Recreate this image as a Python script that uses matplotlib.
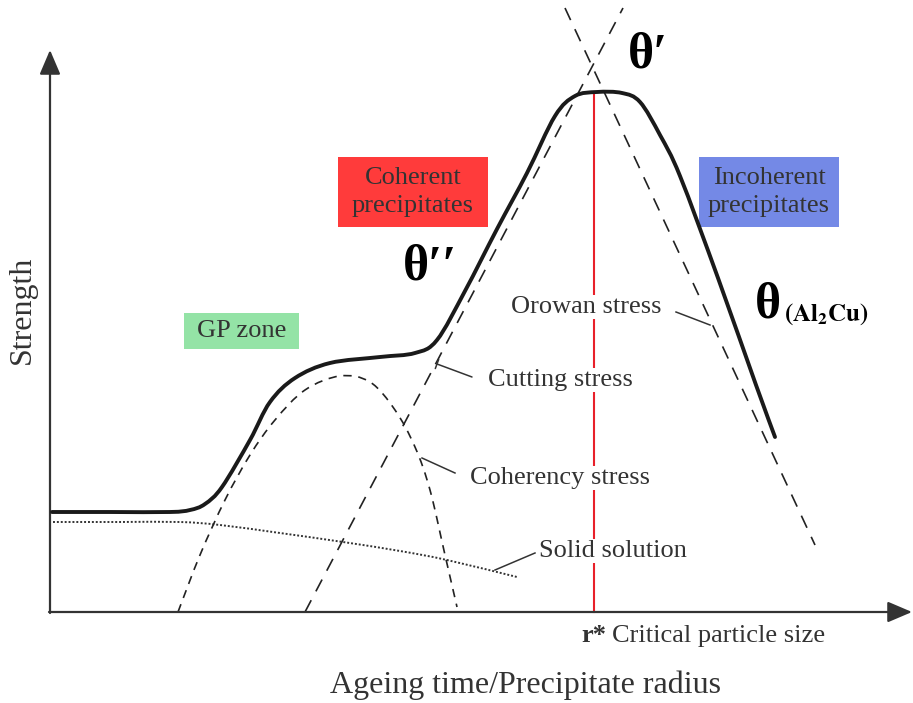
import matplotlib.pyplot as plt
from matplotlib.patches import Rectangle, PathPatch
from matplotlib.path import Path

plt.rcParams["font.family"] = ["Liberation Serif", "DejaVu Serif"]
plt.rcParams["mathtext.fontset"] = "stix"

# schematic units: 1 unit = 10 px, origin at the axes corner
# total strength curve
strength_x = [0.2, 6.0, 12.0, 14.0, 15.5, 17.2, 20.0, 22.0, 24.5, 28.0, 33.0, 36.5,
              38.7, 41.5, 44.7, 47.7, 50.5, 52.5, 54.7, 57.2, 59.0, 61.0, 63.0, 66.8,
              70.6, 72.5]
strength_y = [10.0, 10.0, 10.0, 10.2, 10.8, 12.5, 17.2, 21.0, 23.4, 24.9, 25.5, 25.9,
              27.2, 32.1, 38.3, 43.9, 49.6, 51.6, 52.0, 51.9, 51.0, 47.7, 43.6, 33.4,
              22.7, 17.5]

# coherency stress
coh_x = [12.8, 15.0, 17.5, 20.0, 22.5, 25.5, 29.0, 32.0, 34.5, 36.5, 38.0, 39.5, 40.7]
coh_y = [0.0, 5.7, 11.2, 15.7, 19.2, 22.2, 23.6, 23.0, 20.2, 16.5, 12.2, 5.7, 0.5]

# solid solution
ss_x = [0.3, 7.0, 13.0, 17.0, 23.0, 29.3, 35.0, 39.7, 46.7]
ss_y = [9.0, 9.0, 9.0, 8.7, 7.9, 7.0, 6.1, 5.2, 3.5]

# cutting stress and Orowan stress (straight lines)
cut_x = [25.5, 57.3]
cut_y = [0.0, 60.4]
oro_x = [51.5, 76.5]
oro_y = [60.4, 6.7]

r_crit = 54.4
peak = 52.0


def smooth_path(xs, ys):
    # Catmull-Rom through the points, written as cubic Bezier segments
    pts = list(zip(xs, ys))
    n = len(pts)
    verts = [pts[0]]
    codes = [Path.MOVETO]
    for i in range(n - 1):
        p0 = pts[i - 1] if i > 0 else pts[i]
        p1, p2 = pts[i], pts[i + 1]
        p3 = pts[i + 2] if i + 2 < n else pts[i + 1]
        c1 = (p1[0] + (p2[0] - p0[0]) / 6, p1[1] + (p2[1] - p0[1]) / 6)
        c2 = (p2[0] - (p3[0] - p1[0]) / 6, p2[1] - (p3[1] - p1[1]) / 6)
        verts += [c1, c2, p2]
        codes += [Path.CURVE4] * 3
    return Path(verts, codes)


fig = plt.figure(figsize=(9.13, 7.03), dpi=100)
ax = fig.add_axes([0, 0, 1, 1])
ax.set_xlim(-5.0, 86.3)
ax.set_ylim(-9.1, 61.2)
ax.axis("off")

axis_col = "#333333"
txt_col = "#333333"

# axes with arrows
arrow = dict(arrowstyle="-|>, head_length=0.75, head_width=0.32", lw=1.6,
             color=axis_col, mutation_scale=20, shrinkA=0, shrinkB=0)
ax.annotate("", xy=(0, 56.2), xytext=(0, -0.1), arrowprops=arrow)
ax.annotate("", xy=(86.2, 0), xytext=(-0.1, 0), arrowprops=arrow)

# critical size line
ax.plot([r_crit, r_crit], [0, peak], color="#e8202a", lw=1.5, zorder=1)

ax.add_patch(PathPatch(smooth_path(ss_x, ss_y), fill=False, edgecolor="#333333",
                       lw=1.4, ls=(0, (1, 1))))
ax.add_patch(PathPatch(smooth_path(coh_x, coh_y), fill=False, edgecolor="#222222",
                       lw=1.2, ls=(0, (5, 4))))
ax.plot(cut_x, cut_y, color="#222222", lw=1.2, ls=(0, (8, 6)))
ax.plot(oro_x, oro_y, color="#222222", lw=1.2, ls=(0, (8, 6)))
ax.add_patch(PathPatch(smooth_path(strength_x, strength_y), fill=False,
                       edgecolor="#1a1a1a", lw=2.8, joinstyle="round",
                       capstyle="round", zorder=4))

# coloured boxes
ax.add_patch(Rectangle((28.8, 38.5), 15.0, 7.0, color="#ff3b3b", lw=0, zorder=2))
ax.add_patch(Rectangle((64.9, 38.5), 14.0, 7.0, color="#7489e6", lw=0, zorder=2))
ax.add_patch(Rectangle((13.4, 26.3), 11.5, 3.6, color="#94e3a6", lw=0, zorder=2))

ax.text(36.3, 42.0, "Coherent\nprecipitates", fontsize=19, color=txt_col,
        ha="center", va="center", linespacing=1.4, zorder=3)
ax.text(71.9, 42.0, "Incoherent\nprecipitates", fontsize=19, color=txt_col,
        ha="center", va="center", linespacing=1.4, zorder=3)
ax.text(19.2, 28.1, "GP zone", fontsize=19, color=txt_col, ha="center",
        va="center", zorder=3)

# phase labels
ax.text(38.0, 34.4, "θ′′", fontsize=36, fontweight="bold", ha="center", va="center")
ax.text(59.8, 55.6, "θ′", fontsize=36, fontweight="bold", ha="center", va="center")
ax.text(70.5, 30.6, "θ", fontsize=36, fontweight="bold", ha="left", va="center")
ax.text(73.4, 29.8, r"$\mathbf{(Al_2Cu)}$", fontsize=18, ha="left", va="center")

# mechanism labels with leaders
white = dict(facecolor="white", edgecolor="none", pad=1)
ax.text(53.6, 30.5, "Orowan stress", fontsize=19, color=txt_col, ha="center",
        va="center", bbox=white, zorder=3)
ax.plot([62.6, 66.0], [30.0, 28.7], color=txt_col, lw=1.1)
ax.text(51.0, 23.2, "Cutting stress", fontsize=19, color=txt_col, ha="center",
        va="center", bbox=white, zorder=3)
ax.annotate("", xy=(38.7, 24.8), xytext=(42.2, 23.5),
            arrowprops=dict(arrowstyle="-[, widthB=0.35, lengthB=0", color=txt_col,
                            lw=1.1, shrinkA=0, shrinkB=0))
ax.text(51.0, 13.4, "Coherency stress", fontsize=19, color=txt_col, ha="center",
        va="center", bbox=white, zorder=3)
ax.plot([40.5, 37.2], [13.9, 15.4], color=txt_col, lw=1.1)
ax.text(56.3, 6.1, "Solid solution", fontsize=19, color=txt_col, ha="center",
        va="center", bbox=white, zorder=3)
ax.plot([48.5, 44.5], [5.9, 4.2], color=txt_col, lw=1.1)

# axis annotations
ax.text(55.6, -2.4, "r*", fontsize=19, fontweight="bold", color=txt_col,
        ha="right", va="center")
ax.text(56.2, -2.4, "Critical particle size", fontsize=19, color=txt_col,
        ha="left", va="center")
ax.text(47.5, -7.3, "Ageing time/Precipitate radius", fontsize=23, color=txt_col,
        ha="center", va="center")
ax.text(-2.8, 30.2, "Strength", fontsize=23, color=txt_col, rotation=90,
        ha="center", va="center")

fig.savefig("out.png", dpi=100)
